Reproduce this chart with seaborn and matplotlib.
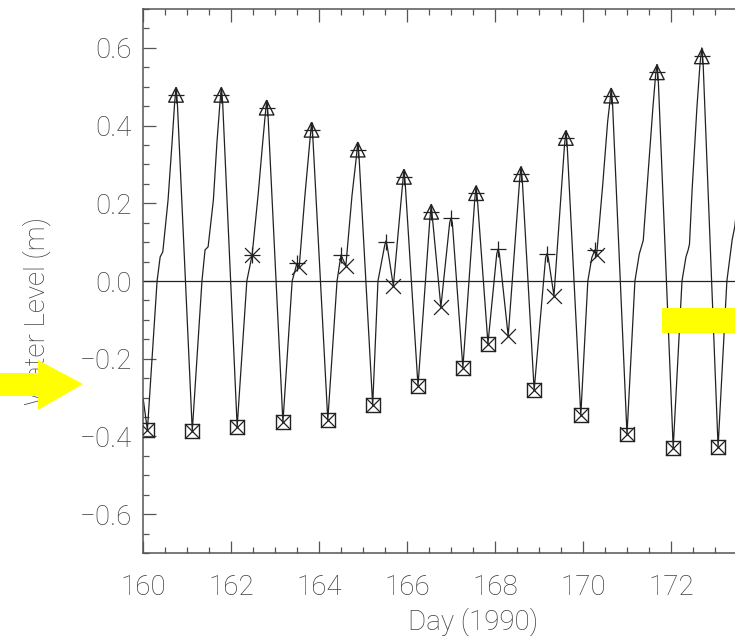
import numpy as np
import matplotlib
matplotlib.use("Agg")
import matplotlib.pyplot as plt
import seaborn as sns
from matplotlib.patches import Polygon, Rectangle
from matplotlib.ticker import MultipleLocator, FuncFormatter

# traced water level curve (day of 1990, metres)
line_day = [160.00, 160.10, 160.32, 160.39, 160.45, 160.57, 160.66, 160.72, 160.75, 160.78,
            161.12, 161.34, 161.41, 161.48, 161.60, 161.68, 161.75, 161.78, 161.81,
            162.14, 162.36, 162.48, 162.62, 162.72, 162.78, 162.81, 162.84,
            163.18, 163.39, 163.50, 163.55, 163.68, 163.80, 163.83, 163.86,
            164.20, 164.41, 164.50, 164.61, 164.75, 164.85, 164.88, 164.91,
            165.22, 165.34, 165.49, 165.52, 165.55, 165.69, 165.90, 165.93, 165.96,
            166.25, 166.52, 166.55, 166.58, 166.77, 166.97, 167.00, 167.03,
            167.27, 167.54, 167.57, 167.60, 167.84, 168.04, 168.07, 168.10,
            168.30, 168.56, 168.59, 168.62, 168.89, 169.15, 169.18, 169.21,
            169.34, 169.58, 169.61, 169.64, 169.95, 170.11, 170.20, 170.27,
            170.31, 170.45, 170.56, 170.61, 170.64, 170.67,
            171.00, 171.18, 171.28, 171.34, 171.37, 171.48, 171.59, 171.65, 171.68, 171.71,
            172.05, 172.25, 172.34, 172.39, 172.42, 172.48, 172.59, 172.66, 172.70, 172.73,
            173.07, 173.27, 173.39, 173.45, 173.60]
line_level = [-0.300, -0.384, 0.000, 0.062, 0.075, 0.209, 0.356, 0.460, 0.497, 0.460,
              -0.386, 0.000, 0.080, 0.088, 0.209, 0.356, 0.460, 0.497, 0.460,
              -0.375, 0.000, 0.067, 0.226, 0.356, 0.430, 0.464, 0.430,
              -0.364, 0.000, 0.046, 0.036, 0.220, 0.370, 0.407, 0.370,
              -0.358, 0.000, 0.067, 0.039, 0.220, 0.320, 0.355, 0.320,
              -0.320, 0.000, 0.090, 0.103, 0.090, -0.013, 0.250, 0.286, 0.250,
              -0.270, 0.160, 0.195, 0.160, -0.067, 0.150, 0.162, 0.150,
              -0.223, 0.210, 0.243, 0.210, -0.161, 0.070, 0.082, 0.070,
              -0.142, 0.260, 0.293, 0.260, -0.281, 0.060, 0.070, 0.060,
              -0.038, 0.350, 0.385, 0.350, -0.345, 0.000, 0.060, 0.080,
              0.067, 0.250, 0.410, 0.460, 0.495, 0.460,
              -0.395, 0.000, 0.070, 0.093, 0.105, 0.278, 0.448, 0.530, 0.557, 0.520,
              -0.430, 0.000, 0.062, 0.080, 0.095, 0.235, 0.448, 0.560, 0.600, 0.560,
              -0.427, 0.000, 0.106, 0.140, 0.300]

# higher highs (triangles) and lower lows (boxes)
hh_day = [160.75, 161.78, 162.81, 163.83, 164.88, 165.93, 166.55, 167.57, 168.59, 169.61, 170.64, 171.68, 172.70]
hh_val = [0.479, 0.479, 0.446, 0.389, 0.338, 0.268, 0.178, 0.226, 0.275, 0.368, 0.477, 0.537, 0.578]
ll_day = [160.10, 161.12, 162.14, 163.18, 164.20, 165.22, 166.25, 167.27, 167.84, 168.89, 169.95, 171.00, 172.05, 173.07]
ll_val = [-0.384, -0.386, -0.375, -0.364, -0.358, -0.320, -0.270, -0.223, -0.161, -0.281, -0.345, -0.395, -0.430, -0.427]

# all local maxima (+) and minima (x)
hi_day = hh_day + [162.48, 163.50, 164.50, 165.52, 167.00, 168.07, 169.18, 170.27]
hi_val = hh_val + [0.067, 0.046, 0.067, 0.101, 0.162, 0.082, 0.070, 0.080]
lo_day = ll_day + [162.48, 163.55, 164.61, 165.69, 166.77, 168.30, 169.34, 170.31]
lo_val = ll_val + [0.067, 0.036, 0.039, -0.013, -0.067, -0.142, -0.038, 0.067]

sns.set_theme(style="ticks")
plt.rcParams['font.family'] = ['Roboto', 'DejaVu Sans']
plt.rcParams['font.weight'] = 'light'
plt.rcParams['axes.labelweight'] = 'light'
grey = '#555555'
text_grey = '#404040'
ink = '#222222'

fig = plt.figure(figsize=(7.35, 6.36), dpi=100)
ax = fig.add_axes([143 / 735, 83 / 636, 660 / 735, 544 / 636])

sns.lineplot(x=line_day, y=line_level, ax=ax, color=ink, linewidth=0.9,
             sort=False, estimator=None)
ax.axhline(0, color=ink, linewidth=0.9)

sns.scatterplot(x=hh_day, y=hh_val, ax=ax, marker='^', s=110,
                facecolor='none', edgecolor=ink, linewidth=1.0, zorder=3)
sns.scatterplot(x=ll_day, y=ll_val, ax=ax, marker='s', s=100,
                facecolor='none', edgecolor=ink, linewidth=1.0, zorder=3)
sns.scatterplot(x=hi_day, y=hi_val, ax=ax, marker='+', s=125,
                color=ink, linewidth=0.9, zorder=3)
sns.scatterplot(x=lo_day, y=lo_val, ax=ax, marker='x', s=115,
                color=ink, linewidth=0.9, zorder=3)

ax.set_xlim(160, 175)
ax.set_ylim(-0.7, 0.7)
ax.set_xticks(range(160, 174, 2))
ax.xaxis.set_minor_locator(MultipleLocator(0.5))
ax.yaxis.set_major_locator(MultipleLocator(0.2))
ax.yaxis.set_minor_locator(MultipleLocator(0.05))
ax.yaxis.set_major_formatter(FuncFormatter(
    lambda v, p: f"{v:.1f}".replace('-0.0', '0.0').replace('-', '\u2212')))

for side in ['left', 'bottom', 'top']:
    ax.spines[side].set_color(grey)
    ax.spines[side].set_linewidth(1.1)
ax.spines['right'].set_visible(False)

ax.tick_params(which='both', direction='in', top=True, right=False,
               color=grey, width=0.9, labelcolor=text_grey, labelsize=20)
ax.tick_params(which='major', length=9)
ax.tick_params(which='minor', length=4.5)
ax.tick_params(axis='x', pad=15)
ax.tick_params(axis='y', pad=8)

ax.set_xlabel('Day (1990)', fontsize=20, color=text_grey, fontweight='light', labelpad=5)
ax.set_ylabel('Water Level (m)', fontsize=20, color=text_grey, fontweight='light')
ax.yaxis.set_label_coords(-0.14, 0.445)

# yellow highlight marks
def px(x, y):
    return (x / 735, 1 - y / 636)

arrow = Polygon([px(0, 373), px(38, 373), px(38, 360), px(83, 384),
                 px(38, 410), px(38, 396), px(0, 396)],
                closed=True, transform=fig.transFigure, facecolor='#ffff00',
                edgecolor='none', zorder=10)
fig.patches.append(arrow)
fig.patches.append(Rectangle(px(662, 333), 73 / 735, 25 / 636,
                             transform=fig.transFigure, facecolor='#ffff00',
                             edgecolor='none', zorder=10))

fig.savefig('out.png', dpi=100)
